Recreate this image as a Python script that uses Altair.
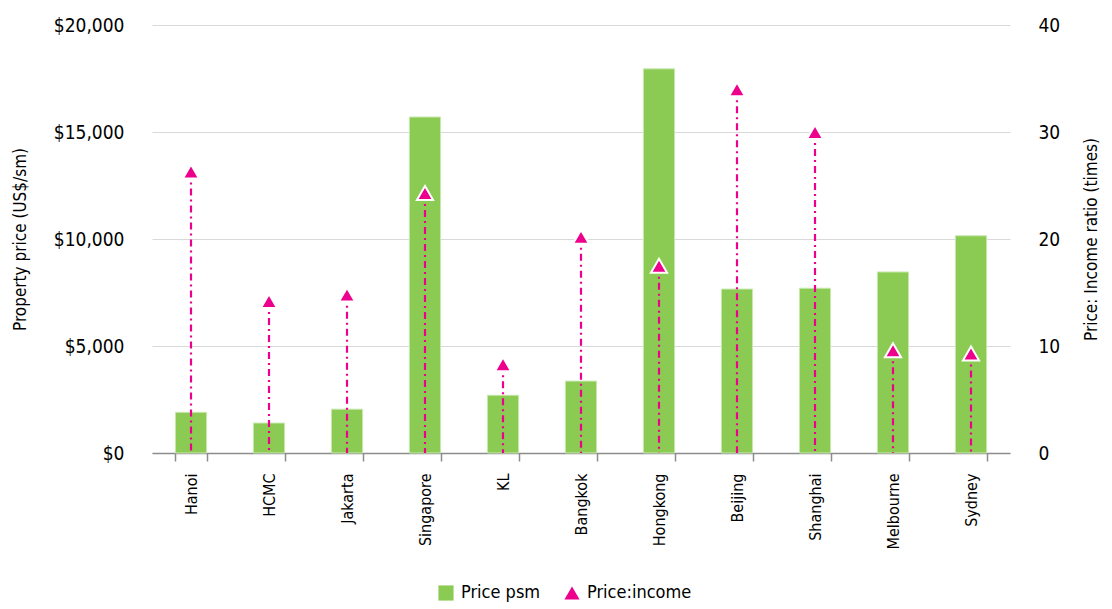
import altair as alt
import pandas as pd

cities = ["Hanoi", "HCMC", "Jakarta", "Singapore", "KL", "Bangkok",
          "Hongkong", "Beijing", "Shanghai", "Melbourne", "Sydney"]
price_psm = [1900, 1400, 2050, 15700, 2700, 3360, 17950, 7660, 7700, 8460, 10150]
price_income = [26.3, 14.2, 14.8, 24.3, 8.3, 20.2, 17.5, 34.0, 30.0, 9.6, 9.3]

FONT = "'DejaVu Sans Condensed', 'Liberation Sans Narrow', 'Roboto Condensed', Roboto, sans-serif"
GREEN = "#8BCB54"
MAGENTA = "#EC008C"

bars_df = pd.DataFrame({"city": cities, "price": price_psm, "series": "Price psm"})
ratio_df = pd.DataFrame({"city": cities, "ratio": price_income, "series": "Price:income"})

x_enc = alt.X("city:N", sort=cities, title=None,
              scale=alt.Scale(paddingInner=0.6, paddingOuter=0.3),
              axis=alt.Axis(labelAngle=-90, labelAlign="right", labelBaseline="middle",
                            labelPadding=12, labelFontSize=16, labelFont=FONT,
                            labelColor="#000", tickBand="extent", tickSize=8,
                            tickColor="#8c8c8c", domainColor="#8c8c8c", domainWidth=1.5,
                            tickWidth=1.5))

color_scale = alt.Scale(domain=["Price psm", "Price:income"], range=[GREEN, MAGENTA])
legend = alt.Legend(title=None, orient="none", direction="horizontal",
                    legendX=285, legendY=559, labelFont=FONT, labelFontSize=18,
                    labelColor="#000", symbolSize=230, symbolStrokeWidth=0,
                    columnPadding=22, labelOffset=6)

right_axis = alt.Axis(orient="right", values=[0, 10, 20, 30, 40],
                      ticks=False, domain=False, grid=False,
                      labelPadding=28, labelFontSize=19, labelFont=FONT,
                      labelColor="#000", titleFont=FONT, titleFontSize=17,
                      titleFontWeight="normal", titleColor="#000",
                      titleAngle=270, titlePadding=41)
RTITLE = "Price: Income ratio (times)"

bars = alt.Chart(bars_df).mark_bar(stroke="#c9e8b0", strokeWidth=1).encode(
    x=x_enc,
    y=alt.Y("price:Q", title="Property price (US$/sm)",
            scale=alt.Scale(domain=[0, 20000]),
            axis=alt.Axis(orient="left", values=[0, 5000, 10000, 15000, 20000],
                          format="$,.0f", ticks=False, domain=False,
                          labelPadding=28, labelFontSize=19, labelFont=FONT,
                          labelColor="#000", titleFont=FONT, titleFontSize=17,
                          titleFontWeight="normal", titleColor="#000",
                          titlePadding=24, gridColor="#d9d9d9", gridWidth=1.2)),
    color=alt.Color("series:N", scale=color_scale, legend=legend),
)

rules = alt.Chart(ratio_df).mark_rule(color=MAGENTA, strokeWidth=2.2,
                                      strokeDash=[7, 4, 2, 4]).encode(
    x=alt.X("city:N", sort=cities),
    y=alt.Y("ratio:Q", title=RTITLE, scale=alt.Scale(domain=[0, 40]), axis=right_axis),
    y2=alt.datum(0),
)

points = alt.Chart(ratio_df).mark_point(filled=True, opacity=1, stroke="white",
                                        strokeWidth=2, size=260).encode(
    x=alt.X("city:N", sort=cities),
    y=alt.Y("ratio:Q", title=RTITLE, scale=alt.Scale(domain=[0, 40]), axis=right_axis),
    color=alt.Color("series:N", scale=color_scale, legend=legend),
    shape=alt.Shape("series:N",
                    scale=alt.Scale(domain=["Price psm", "Price:income"],
                                    range=["square", "triangle-up"]),
                    legend=legend),
)

right = alt.layer(rules, points)

chart = alt.layer(bars, right).resolve_scale(y="independent").properties(
    width=858, height=428,
    background="white",
    autosize=alt.AutoSizeParams(type="none"),
    padding={"left": 152, "top": 25, "right": 102, "bottom": 156},
).configure_view(stroke=None)

chart.save("out.html", embed_options={"renderer": "svg", "actions": False})
